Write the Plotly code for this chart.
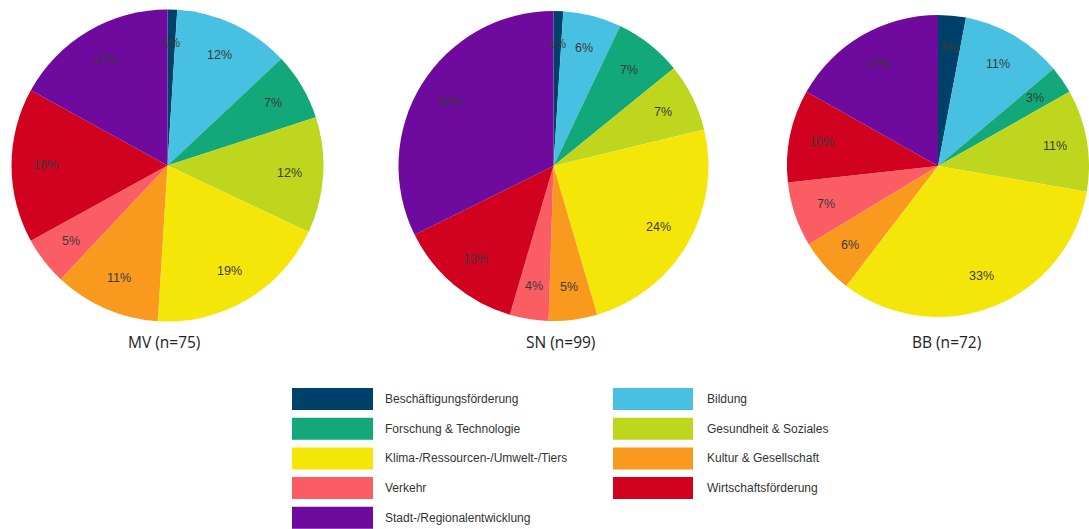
import math
import plotly.graph_objects as go

W, H = 1089, 529

categories = [
    "Beschäftigungsförderung",
    "Bildung",
    "Forschung & Technologie",
    "Gesundheit & Soziales",
    "Klima-/Ressourcen-/Umwelt-/Tiers",
    "Kultur & Gesellschaft",
    "Verkehr",
    "Wirtschaftsförderung",
    "Stadt-/Regionalentwicklung",
]
colors = ["#00416B", "#48C0E2", "#12A87A", "#BED71E", "#F5E60A",
          "#F99A1F", "#FB5D64", "#D0021F", "#6E0B9E"]

# percentages
mv_values = [1, 12, 7, 12, 19, 11, 5, 16, 17]
sn_values = [1, 6, 7, 7, 24, 5, 4, 13, 32]
bb_values = [3, 11, 3, 11, 33, 6, 7, 10, 17]
pie_titles = ["MV (n=75)", "SN (n=99)", "BB (n=72)"]

legend_order = [0, 1, 2, 3, 4, 5, 6, 7, 8]


def px_x(v):
    return v / W


def px_y(v):
    return 1 - v / H


# square pie domains in pixels: (center x, center y, radius)
pie_geom = [(167.5, 165.5, 156), (553.5, 166, 155), (938, 166, 151)]
title_x = [164, 560, 946]
LABEL_R = 0.785

fig = go.Figure()
annotations = []
layout_axes = {}
for i, (vals, (cx, cy, rad)) in enumerate(zip([mv_values, sn_values, bb_values], pie_geom)):
    dx = [px_x(cx - rad), px_x(cx + rad)]
    dy = [px_y(cy + rad), px_y(cy - rad)]
    fig.add_trace(go.Pie(
        labels=categories,
        values=vals,
        sort=False,
        direction="clockwise",
        rotation=0,
        marker=dict(colors=colors, line=dict(width=0)),
        textinfo="none",
        hoverinfo="label+value",
        showlegend=False,
        domain=dict(x=dx, y=dy),
    ))
    # overlay axes matching the pie's square, used to place slice labels
    sfx = "" if i == 0 else str(i + 1)
    xa, ya = "x" + sfx, "y" + sfx
    layout_axes["xaxis" + sfx] = dict(domain=dx, range=[-1, 1], visible=False,
                                      anchor=ya, fixedrange=True)
    layout_axes["yaxis" + sfx] = dict(domain=dy, range=[-1, 1], visible=False,
                                      anchor=xa, fixedrange=True)
    fig.add_trace(go.Scatter(x=[], y=[], xaxis=xa, yaxis=ya, showlegend=False,
                             hoverinfo="skip"))
    total = sum(vals)
    cum = 0
    for v in vals:
        theta = 2 * math.pi * (cum + v / 2) / total
        cum += v
        annotations.append(dict(
            x=LABEL_R * math.sin(theta), y=LABEL_R * math.cos(theta),
            xref=xa, yref=ya, text=f"{v}%", showarrow=False,
            xanchor="center", yanchor="middle",
            font=dict(family="Liberation Sans, Arial, sans-serif", size=12.5,
                      color="#3a3a3a"),
        ))

for name, tx in zip(pie_titles, title_x):
    annotations.append(dict(
        x=px_x(tx), y=px_y(342), xref="paper", yref="paper",
        text=name, showarrow=False, xanchor="center", yanchor="middle",
        font=dict(family="Open Sans, Noto Sans, sans-serif", size=15.5, color="#222222"),
    ))

shapes = []
col_rect_x = [(292, 373), (613, 693)]
col_text_x = [383, 705]
row_top0, row_pitch, rect_h = 388, 29.7, 22
for k, idx in enumerate(legend_order):
    row, col = divmod(k, 2)
    top = row_top0 + row * row_pitch
    x0, x1 = col_rect_x[col]
    shapes.append(dict(
        type="rect", xref="paper", yref="paper",
        x0=px_x(x0), x1=px_x(x1), y0=px_y(top + rect_h), y1=px_y(top),
        fillcolor=colors[idx], line=dict(width=0),
    ))
    annotations.append(dict(
        x=px_x(col_text_x[col]), y=px_y(top + rect_h / 2), xref="paper", yref="paper",
        text=categories[idx], showarrow=False, xanchor="left", yanchor="middle",
        font=dict(family="Liberation Sans, Arial, sans-serif", size=12, color="#333333"),
    ))

fig.update_layout(
    width=W, height=H,
    margin=dict(l=0, r=0, t=0, b=0),
    paper_bgcolor="white",
    plot_bgcolor="rgba(0,0,0,0)",
    annotations=annotations,
    shapes=shapes,
    **layout_axes,
)

fig.write_html("out.html")
